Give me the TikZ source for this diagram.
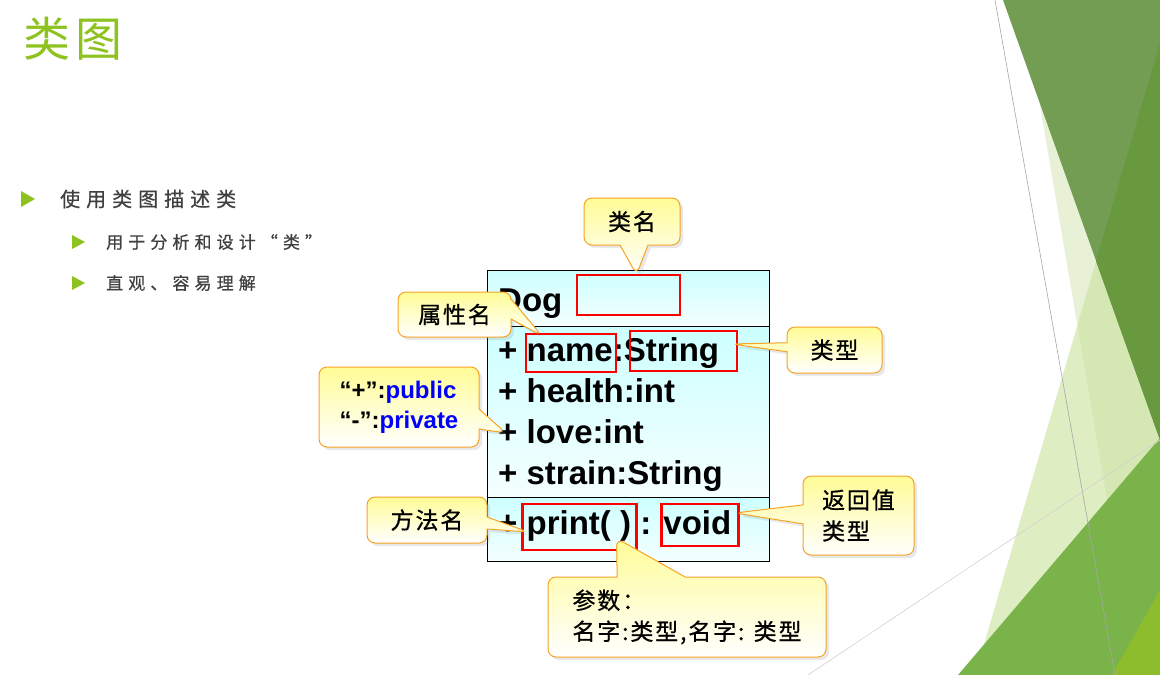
\documentclass[tikz,border=0pt]{standalone}
\usepackage{fontspec}
\setmainfont{Liberation Sans}
\newfontfamily\cjk{Noto Sans CJK SC}
\newfontfamily\cjkwide[LetterSpace=30,FakeBold=0.6]{Noto Sans CJK SC}
\newfontfamily\cjktitle[LetterSpace=12]{Noto Sans CJK SC}
\newfontfamily\cjkcall[LetterSpace=8,FakeBold=0.8]{Noto Sans CJK SC}
\usetikzlibrary{positioning,calc,shapes.callouts,shadows}
\definecolor{leafgreen}{RGB}{141,194,31}
\definecolor{darktext}{RGB}{64,64,64}
\definecolor{calloutline}{RGB}{247,163,37}
\definecolor{callouttop}{RGB}{255,252,150}
\definecolor{umlcyan}{RGB}{204,255,255}
\definecolor{facetpale}{RGB}{232,241,214}
\definecolor{facetlight}{RGB}{201,225,154}
\definecolor{facetdark}{RGB}{114,157,83}
\definecolor{facetdeep}{RGB}{105,153,62}
\definecolor{facetgrass}{RGB}{122,179,74}
\definecolor{facetlime}{RGB}{141,189,44}
\begin{document}
\begin{tikzpicture}[x=1pt,y=-1pt,
    compart/.style={draw, line width=0.8pt, top color=umlcyan, bottom color=umlcyan!20,
        minimum width=282pt, outer sep=0pt, inner sep=0pt, anchor=north west},
    umltext/.style={font=\fontsize{33}{40}\selectfont\bfseries, anchor=base west, inner sep=0pt},
    redbox/.style={draw=red, line width=2.6pt, inner sep=0pt},
    callbox/.style={rectangle callout, draw=calloutline, line width=1pt, rounded corners=8pt,
        top color=callouttop, bottom color=white,
        drop shadow={opacity=0.18, shadow xshift=3pt, shadow yshift=-3pt},
        font=\cjkcall\fontsize{23}{31}\selectfont, inner sep=0pt},
    bullettext/.style={anchor=west, inner sep=0pt, text=darktext}
]

\useasboundingbox (0,0) rectangle (1160,675);
\fill[white] (0,0) rectangle (1160,675);

\begin{scope}
    \fill[facetpale] (1022,0) -- (1160,0) -- (1160,675) -- (1137,675) -- cycle;
    \fill[facetlight, opacity=0.6] (1160,43) -- (975,675) -- (1160,675) -- cycle;
    \fill[facetdark] (1003,0) -- (1160,0) -- (1160,440) -- cycle;
    \fill[facetdeep] (1160,43) -- (1096,261) -- (1160,440) -- cycle;
    \fill[facetgrass] (1160,438) -- (958,675) -- (1160,675) -- cycle;
    \fill[facetlime] (1160,590) -- (1112,675) -- (1160,675) -- cycle;
    \draw[gray!70, line width=0.6pt] (995,0) -- (1115,675);
    \draw[gray!35, line width=0.6pt] (808,675) -- (1160,440);
\end{scope}

\node[anchor=west, inner sep=0pt, text=leafgreen, font=\cjktitle\fontsize{47}{47}\selectfont] (title) at (23,39) {类图};

\fill[leafgreen] (21,191) -- (35,199) -- (21,207) -- cycle;
\fill[leafgreen] (72,235) -- (85,242) -- (72,249) -- cycle;
\fill[leafgreen] (72,276) -- (85,283) -- (72,290) -- cycle;
\node[bullettext, font=\cjkwide\fontsize{20}{20}\selectfont] (itemA) at (60,199) {使用类图描述类};
\node[bullettext, font=\cjkwide\fontsize{17}{17}\selectfont] (itemB) at (106,242) {用于分析和设计“类”};
\node[bullettext, font=\cjkwide\fontsize{17}{17}\selectfont] (itemC) at (106,283) {直观、容易理解};

\node[compart, minimum height=56pt] (dogHead) at (487,270) {};
\node[compart, minimum height=171pt, below=0pt of dogHead] (dogAttr) {};
\node[compart, minimum height=64pt, below=0pt of dogAttr] (dogOps) {};

\node[umltext] (dogName) at (498,311) {Dog};
\node[umltext] (attrName) at (498,361) {+ name:String};
\node[umltext] (attrHealth) at (498,402) {+ health:int};
\node[umltext] (attrLove) at (498,443) {+ love:int};
\node[umltext] (attrStrain) at (498,484) {+ strain:String};
\node[umltext] (opPrint) at (498,534) {+ print( ) : void};

\node[redbox, minimum width=103pt, minimum height=40pt] (rbClass) at (628.5,295) {};
\node[redbox, minimum width=90pt, minimum height=38pt] (rbAttr) at (571,353) {};
\node[redbox, minimum width=107pt, minimum height=40pt] (rbType) at (683.5,351) {};
\node[redbox, minimum width=114pt, minimum height=46pt] (rbOp) at (579.5,527) {};
\node[redbox, minimum width=77pt, minimum height=42pt] (rbRet) at (700,525) {};

\coordinate (tipClass) at ($(rbClass.north)+(8,1)$);
\coordinate (tipAttr) at ($(rbAttr.north west)+(17,3)$);
\coordinate (tipType) at ($(rbType.east)+(-7,-7)$);
\coordinate (tipVis) at ($(attrLove.base west)+(8,-10)$);
\coordinate (tipOp) at ($(rbOp.west)+(7,5)$);
\coordinate (tipRet) at ($(rbRet.east)+(-5,-12)$);
\coordinate (tipParam) at ($(rbOp.south)+(37,-13)$);

\node[callbox, minimum width=96pt, minimum height=47pt, callout absolute pointer={(tipClass)},
    callout pointer width=28pt] (cClass) at (632,221.5) {类名};
\node[callbox, minimum width=113pt, minimum height=45pt, callout absolute pointer={(tipAttr)},
    callout pointer width=20pt] (cAttr) at (454.5,314.5) {属性名};
\node[callbox, minimum width=95pt, minimum height=46pt, callout absolute pointer={(tipType)},
    callout pointer width=9pt] (cType) at (834.5,350) {类型};
\node[callbox, minimum width=160pt, minimum height=80pt, callout absolute pointer={(tipVis)},
    callout pointer width=20pt, align=left, font=\bfseries\fontsize{24}{30}\selectfont] (cVis) at (399,407)
    {“+”:\textcolor{blue}{public}\\“-”:\textcolor{blue}{private}};
\node[callbox, minimum width=120pt, minimum height=46pt, callout absolute pointer={(tipOp)},
    callout pointer width=12pt] (cOp) at (427,520) {方法名};
\node[callbox, minimum width=111pt, minimum height=79pt, callout absolute pointer={(tipRet)},
    callout pointer width=19pt, align=left] (cRet) at (858.5,515.5) {返回值\\类型};
\node[callbox, minimum width=278pt, minimum height=80pt, callout absolute pointer={(tipParam)},
    callout pointer width=68pt, align=left] (cParam) at (687,617) {参数：\\名字:类型,名字: 类型};

\end{tikzpicture}
\end{document}
